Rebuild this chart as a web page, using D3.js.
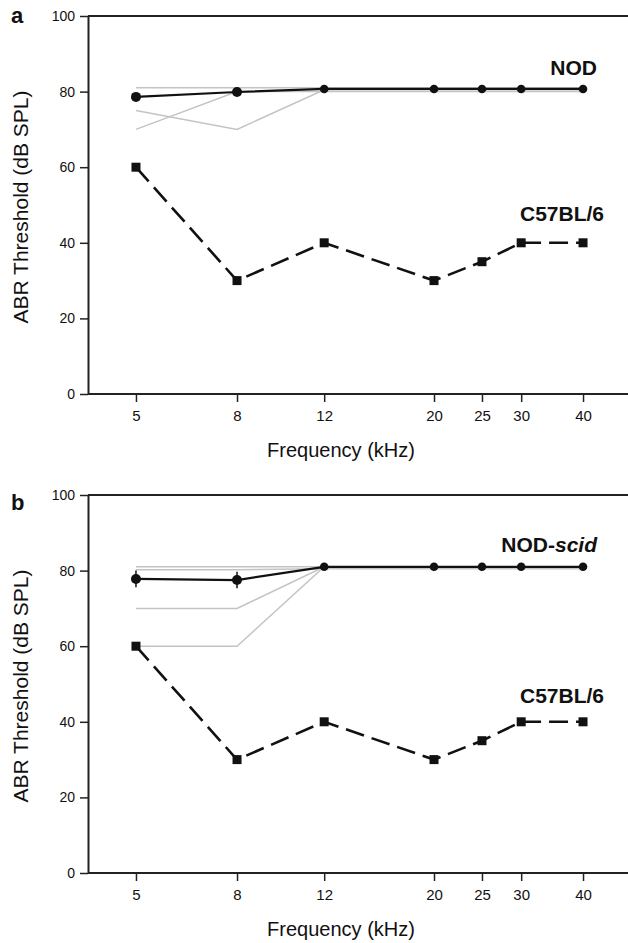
<!DOCTYPE html>
<html>
<head>
<meta charset="utf-8">
<script src="https://cdn.jsdelivr.net/npm/d3@7"></script>
<style>
  body { margin: 0; background: #fff; }
  text { font-family: "Liberation Sans", Arial, sans-serif; fill: #111; }
</style>
</head>
<body>
<div id="plot"></div>
<script>
// frequencies tested (kHz)
const freqs = [5, 8, 12, 20, 25, 30, 40];
const yTicks = [0, 20, 40, 60, 80, 100];

// panel a
const nodMean = [78.6, 79.9, 80.7, 80.7, 80.7, 80.7, 80.7];
const nodAnimals = [
    [81, 81, 81, 81, 81, 81, 81],
    [75, 70, 80.5, 80.5, 80.5, 80.5, 80.5],
    [70, 80, 80, 80, 80, 80, 80]
];
const c57a = [60, 30, 40, 30, 35, 40, 40];

// panel b
const scidMean = [77.8, 77.5, 81, 81, 81, 81, 81];
const scidErr = [2.2, 2.2, 0, 0, 0, 0, 0];
const scidAnimals = [
    [81, 81, 81, 81, 81, 81, 81],
    [80.2, 80.2, 80.5, 80.5, 80.5, 80.5, 80.5],
    [70, 70, 81, 81, 81, 81, 81],
    [60, 60, 81, 81, 81, 81, 81]
];
const c57b = [60, 30, 40, 30, 35, 40, 40];

const W = 628, H = 943;
const left = 88, right = 631;

const svg = d3.select("#plot")
    .append("svg")
    .attr("width", W)
    .attr("height", H);

svg.append("rect").attr("width", W).attr("height", H).attr("fill", "#fff");

const x = d3.scaleLog()
    .domain([4, 50])
    .range([left, right]);

function drawPanel(p) {
    const y = d3.scaleLinear().domain([0, 100]).range([p.bottom, p.top]);
    const g = svg.append("g");

    const line = d3.line()
        .x((d, i) => x(freqs[i]))
        .y(d => y(d));

    // individual animals
    p.animals.forEach(a => {
        g.append("path")
            .datum(a)
            .attr("d", line)
            .attr("fill", "none")
            .attr("stroke", "#c4c4c4")
            .attr("stroke-width", 1.5);
    });

    // frame top line
    g.append("line")
        .attr("x1", left).attr("x2", W)
        .attr("y1", p.top).attr("y2", p.top)
        .attr("stroke", "#222").attr("stroke-width", 2);

    // axes
    const ya = g.append("g")
        .attr("transform", "translate(" + left + ",0)")
        .call(d3.axisLeft(y).tickValues(yTicks).tickSize(8).tickSizeOuter(0).tickPadding(5));
    ya.selectAll("text").style("font-size", "14px").attr("fill", "#111");

    const xa = g.append("g")
        .attr("transform", "translate(0," + p.bottom + ")")
        .call(d3.axisBottom(x).tickValues(freqs).tickFormat(d3.format("d"))
            .tickSize(8).tickSizeOuter(0).tickPadding(8));
    xa.selectAll("text").style("font-size", "15px").attr("fill", "#111");
    xa.select(".domain").attr("d", "M" + left + ",0H" + W);

    g.selectAll(".domain").attr("stroke", "#222").attr("stroke-width", 2);
    g.selectAll(".tick line").attr("stroke", "#222").attr("stroke-width", 1.5);
    g.selectAll(".tick text").style("font-family", "'Liberation Sans', Arial, sans-serif");

    // C57BL/6 dashed line
    g.append("path")
        .datum(p.c57)
        .attr("d", line)
        .attr("fill", "none")
        .attr("stroke", "#111")
        .attr("stroke-width", 2.6)
        .attr("stroke-dasharray", "19,8");

    g.selectAll(".sq")
        .data(p.c57)
        .enter().append("rect")
        .attr("x", (d, i) => x(freqs[i]) - 4.5)
        .attr("y", d => y(d) - 4.5)
        .attr("width", 9)
        .attr("height", 9)
        .attr("fill", "#111");

    // mean line
    g.append("path")
        .datum(p.mean)
        .attr("d", line)
        .attr("fill", "none")
        .attr("stroke", "#111")
        .attr("stroke-width", 2.2);

    if (p.err) {
        g.selectAll(".err")
            .data(p.mean)
            .enter().append("line")
            .filter((d, i) => p.err[i] > 0)
            .attr("x1", (d, i) => x(freqs[i]))
            .attr("x2", (d, i) => x(freqs[i]))
            .attr("y1", (d, i) => y(d + p.err[i]))
            .attr("y2", (d, i) => y(d - p.err[i]))
            .attr("stroke", "#111")
            .attr("stroke-width", 1.5);
    }

    g.selectAll(".dot")
        .data(p.mean)
        .enter().append("circle")
        .attr("cx", (d, i) => x(freqs[i]))
        .attr("cy", d => y(d))
        .attr("r", (d, i) => i < 2 ? 5 : 4.3)
        .attr("fill", "#111");

    // axis titles
    g.append("text")
        .attr("transform", "translate(28," + ((p.top + p.bottom) / 2 + 2) + ") rotate(-90)")
        .attr("text-anchor", "middle")
        .style("font-size", "21px")
        .text("ABR Threshold (dB SPL)");

    g.append("text")
        .attr("x", 341)
        .attr("y", p.bottom + 63)
        .attr("text-anchor", "middle")
        .style("font-size", "20px")
        .text("Frequency (kHz)");

    // panel letter
    g.append("text")
        .attr("x", 11)
        .attr("y", p.top + p.letterDy)
        .style("font-size", "22px")
        .style("font-weight", "bold")
        .text(p.letter);

    // series labels
    const lab = g.append("text")
        .attr("x", 597)
        .attr("y", p.top + p.strainDy)
        .attr("text-anchor", "end")
        .style("font-size", "21px")
        .style("font-weight", "bold");
    lab.append("tspan").text(p.strain);
    if (p.strainItalic) {
        lab.append("tspan").style("font-style", "italic").text(p.strainItalic);
    }

    g.append("text")
        .attr("x", 604)
        .attr("y", p.top + p.c57Dy)
        .attr("text-anchor", "end")
        .style("font-size", "21px")
        .style("font-weight", "bold")
        .text("C57BL/6");
}

drawPanel({
    top: 16, bottom: 394, letter: "a", letterDy: 7,
    mean: nodMean, animals: nodAnimals, c57: c57a,
    strain: "NOD", strainDy: 59, c57Dy: 205
});

drawPanel({
    top: 495, bottom: 873, letter: "b", letterDy: 15,
    mean: scidMean, err: scidErr, animals: scidAnimals, c57: c57b,
    strain: "NOD-", strainItalic: "scid", strainDy: 57, c57Dy: 208
});
</script>
</body>
</html>
